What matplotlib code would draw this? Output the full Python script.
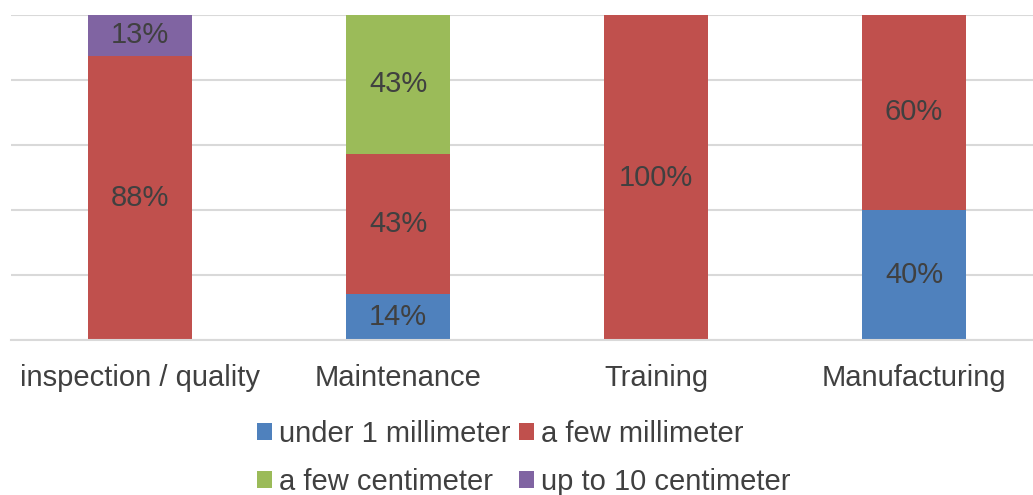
import matplotlib

matplotlib.use("Agg")
import matplotlib.pyplot as plt
import numpy as np

categories = ["inspection / quality", "Maintenance", "Training", "Manufacturing"]
series_names = ["under 1 millimeter", "a few millimeter", "a few centimeter", "up to 10 centimeter"]
under_1mm = [0, 14.3, 0, 40]
few_mm = [87.5, 42.9, 100, 60]
few_cm = [0, 42.9, 0, 0]
up_to_10cm = [12.5, 0, 0, 0]
colors = ["#4F81BD", "#C0504D", "#9BBB59", "#8064A2"]

plt.rcParams["font.family"] = ["Liberation Sans", "DejaVu Sans"]
text_color = "#404040"
fs = 21

fig = plt.figure(figsize=(10.33, 4.95), dpi=100)
ax = fig.add_axes([11 / 1033, 1 - 340 / 495, 1 - 11 / 1033, 325 / 495])

x = np.arange(len(categories))
bottom = np.zeros(len(categories))
handles = []
for name, vals, col in zip(series_names, [under_1mm, few_mm, few_cm, up_to_10cm], colors):
    vals = np.array(vals, dtype=float)
    h = ax.bar(x, vals, 0.4, bottom=bottom, color=col, label=name, zorder=2)
    handles.append(h)
    for xi, b, v in zip(x, bottom, vals):
        if v > 0:
            ax.text(xi, b + v / 2, f"{int(v + 0.5)}%", ha="center", va="center",
                    fontsize=fs, color=text_color, zorder=3)
    bottom += vals

ax.set_ylim(0, 100)
ax.set_xlim(-0.5, 3.5 - 10 / 258)
ax.set_yticks(np.arange(0, 101, 20))
ax.yaxis.grid(True, color="#D9D9D9", linewidth=1.5, zorder=0)
ax.set_yticklabels([])
ax.tick_params(axis="y", length=0)
ax.tick_params(axis="x", length=0, pad=17, labelsize=fs, labelcolor=text_color)
ax.set_xticks(x)
ax.set_xticklabels(categories)
for side in ["top", "right", "left"]:
    ax.spines[side].set_visible(False)
ax.spines["bottom"].set_color("#D9D9D9")
ax.spines["bottom"].set_linewidth(1.5)

# legend filled row by row like the original
order = [0, 2, 1, 3]
fig.legend([handles[i] for i in order], [series_names[i] for i in order],
           loc="upper center", bbox_to_anchor=(524 / 1033, 1 - 405 / 495), ncol=2,
           frameon=False, fontsize=fs, labelcolor=text_color,
           handlelength=0.5, handleheight=0.5, handletextpad=0.25,
           columnspacing=0.3, labelspacing=0.7, borderpad=0)

fig.savefig("out.png", dpi=100)
